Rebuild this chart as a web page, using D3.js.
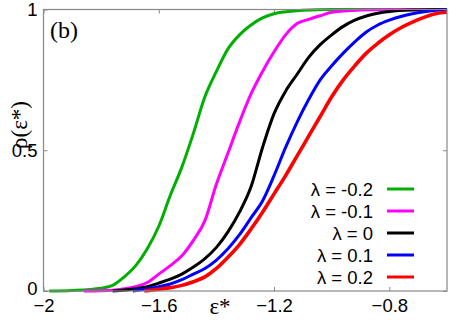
<!DOCTYPE html>
<html>
<head>
<meta charset="utf-8">
<script src="https://cdn.jsdelivr.net/npm/d3@7"></script>
<style>
  body { margin: 0; background: #fff; }
  svg { display: block; }
</style>
</head>
<body>
<svg id="chart" width="463" height="324"></svg>
<script>
const xTicks = [-2, -1.6, -1.2, -0.8];
const yTicks = [0, 0.5, 1];
const labels = ['λ = -0.2', 'λ = -0.1', 'λ = 0', 'λ = 0.1', 'λ = 0.2'];
const colors = ['#00b000', '#ff00ff', '#000000', '#0000ff', '#ff0000'];

// [eps*, rho] pairs
const green = [[-1.98,0],[-1.9,0.002],[-1.8,0.01],[-1.76,0.02],[-1.72,0.05],[-1.68,0.09],[-1.64,0.15],
  [-1.6,0.23],[-1.56,0.34],[-1.52,0.44],[-1.48,0.56],[-1.44,0.69],[-1.4,0.78],[-1.36,0.86],[-1.32,0.91],
  [-1.28,0.945],[-1.24,0.97],[-1.2,0.985],[-1.1,0.997],[-1.0,1],[-0.6,1]];
const magenta = [[-1.86,0],[-1.76,0.003],[-1.72,0.008],[-1.68,0.015],[-1.64,0.03],[-1.6,0.06],[-1.56,0.09],
  [-1.52,0.125],[-1.48,0.18],[-1.44,0.25],[-1.4,0.38],[-1.36,0.49],[-1.32,0.6],[-1.28,0.7],[-1.24,0.78],
  [-1.2,0.85],[-1.16,0.91],[-1.12,0.95],[-1.08,0.965],[-1.04,0.978],[-1.0,0.99],[-0.9,0.998],[-0.8,1],[-0.6,1]];
const black = [[-1.76,0],[-1.68,0.008],[-1.64,0.015],[-1.6,0.028],[-1.56,0.042],[-1.52,0.06],[-1.48,0.085],
  [-1.44,0.115],[-1.4,0.155],[-1.36,0.21],[-1.32,0.28],[-1.28,0.37],[-1.24,0.51],[-1.2,0.63],[-1.16,0.71],
  [-1.12,0.77],[-1.08,0.83],[-1.04,0.875],[-1.0,0.91],[-0.96,0.94],[-0.92,0.962],[-0.88,0.977],[-0.84,0.987],
  [-0.8,0.993],[-0.72,0.998],[-0.6,1]];
const blue = [[-1.69,0],[-1.64,0.008],[-1.6,0.015],[-1.56,0.025],[-1.52,0.04],[-1.48,0.06],[-1.44,0.08],
  [-1.4,0.11],[-1.36,0.15],[-1.32,0.2],[-1.28,0.26],[-1.24,0.32],[-1.2,0.41],[-1.16,0.51],[-1.12,0.6],
  [-1.08,0.68],[-1.04,0.75],[-1.0,0.8],[-0.96,0.845],[-0.92,0.885],[-0.88,0.92],[-0.84,0.945],[-0.8,0.962],
  [-0.76,0.975],[-0.72,0.985],[-0.68,0.992],[-0.64,0.997],[-0.6,1]];
const red = [[-1.65,0],[-1.6,0.006],[-1.56,0.012],[-1.52,0.02],[-1.48,0.033],[-1.44,0.05],[-1.4,0.08],
  [-1.36,0.12],[-1.32,0.165],[-1.28,0.22],[-1.24,0.28],[-1.2,0.345],[-1.16,0.41],[-1.12,0.48],[-1.08,0.55],
  [-1.04,0.62],[-1.0,0.69],[-0.96,0.75],[-0.92,0.8],[-0.88,0.845],[-0.84,0.88],[-0.8,0.91],[-0.76,0.935],
  [-0.72,0.955],[-0.68,0.972],[-0.64,0.985],[-0.6,0.99]];
const series = [green, magenta, black, blue, red];

const m = { left: 43.5, right: 447, top: 9.5, bottom: 291 };
const svg = d3.select('#chart');
const x = d3.scaleLinear().domain([-2, -0.6]).range([m.left, m.right]);
const y = d3.scaleLinear().domain([0, 1]).range([m.bottom, m.top]);

const frame = '#888';
const sans = 'Liberation Sans, Arial, sans-serif';
const serif = 'Liberation Serif, Times New Roman, serif';

// ticks, inward on all four sides
const g = svg.append('g');
g.append('g').attr('transform', `translate(0,${m.bottom})`)
  .call(d3.axisBottom(x).tickValues(xTicks).tickSize(-4).tickPadding(8).tickFormat(d3.format('')));
g.append('g').attr('transform', `translate(0,${m.top})`)
  .call(d3.axisTop(x).tickValues(xTicks).tickSize(-4).tickFormat(''));
g.append('g').attr('transform', `translate(${m.left},0)`)
  .call(d3.axisLeft(y).tickValues(yTicks).tickSize(-4).tickPadding(6).tickFormat(d3.format('')));
g.append('g').attr('transform', `translate(${m.right},0)`)
  .call(d3.axisRight(y).tickValues(yTicks).tickSize(-4).tickFormat(''));
g.selectAll('.domain').remove();
g.selectAll('.tick line').attr('stroke', frame);
g.selectAll('.tick text').attr('fill', '#000').style('font-family', sans).style('font-size', '18.5px');
// keep the "0" clear of the "-2" below it
g.selectAll('.tick text').filter(d => d === 0).attr('dy', '0.2em');

// curves
const line = d3.line().x(d => x(d[0])).y(d => y(d[1])).curve(d3.curveMonotoneX);
svg.append('g').selectAll('path').data(series).join('path')
  .attr('d', line)
  .attr('fill', 'none')
  .attr('stroke', (d, i) => colors[i])
  .attr('stroke-width', (d, i) => i === 4 ? 3.6 : 3)
  .attr('stroke-linejoin', 'round');

svg.append('rect')
  .attr('x', m.left).attr('y', m.top)
  .attr('width', m.right - m.left).attr('height', m.bottom - m.top)
  .attr('fill', 'none').attr('stroke', frame).attr('stroke-width', 1.2);

// legend
const leg = svg.append('g');
labels.forEach((t, i) => {
  const ly = 189 + i * 22;
  leg.append('text').attr('x', 373).attr('y', ly + 6.5).attr('text-anchor', 'end')
    .style('font-family', sans).style('font-size', '18.5px').text(t);
  leg.append('line').attr('x1', 387).attr('x2', 414).attr('y1', ly).attr('y2', ly)
    .attr('stroke', colors[i]).attr('stroke-width', 3);
});

// labels
svg.append('text').attr('x', 50).attr('y', 38)
  .style('font-family', serif).style('font-size', '24px').text('(b)');
svg.append('text').attr('x', 220).attr('y', 314).attr('text-anchor', 'middle')
  .style('font-family', serif).style('font-size', '23px').text('ε*');
svg.append('text').attr('transform', 'translate(27,125) rotate(-90)').attr('text-anchor', 'middle')
  .style('font-family', serif).style('font-size', '23px').text('ρ(ε*)');
</script>
</body>
</html>
